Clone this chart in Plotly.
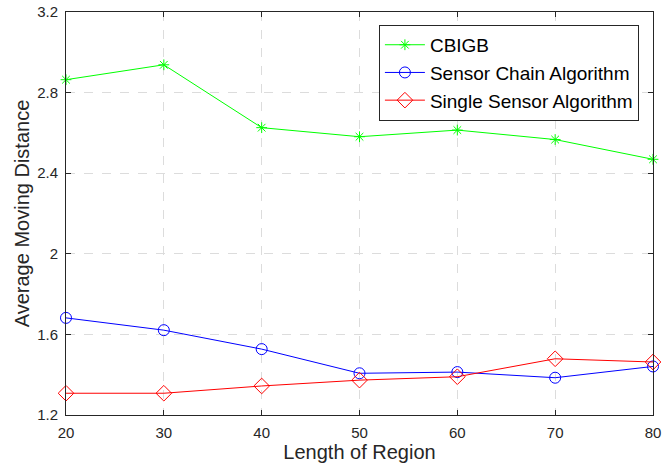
import plotly.graph_objects as go

x_vals = [20, 30, 40, 50, 60, 70, 80]
cbigb = [2.864, 2.938, 2.626, 2.581, 2.614, 2.567, 2.469]
sensor_chain = [1.682, 1.621, 1.527, 1.407, 1.413, 1.385, 1.441]
single_sensor = [1.308, 1.308, 1.344, 1.373, 1.390, 1.479, 1.463]
x_ticks = [20, 30, 40, 50, 60, 70, 80]
y_ticks = [1.2, 1.6, 2.0, 2.4, 2.8, 3.2]
y_tick_text = ["1.2", "1.6", "2", "2.4", "2.8", "3.2"]

FONT = "Liberation Sans, Arial, sans-serif"

fig = go.Figure()
fig.add_trace(go.Scatter(x=x_vals, y=cbigb, name="CBIGB", mode="lines+markers",
                         line=dict(color="#00ff00", width=1),
                         marker=dict(symbol="asterisk-open", size=9, color="#00ff00",
                                     line=dict(color="#00ff00", width=1)),
                         cliponaxis=False))
fig.add_trace(go.Scatter(x=x_vals, y=sensor_chain, name="Sensor Chain Algorithm", mode="lines+markers",
                         line=dict(color="#0000ff", width=1),
                         marker=dict(symbol="circle-open", size=11, color="#0000ff",
                                     line=dict(color="#0000ff", width=1)),
                         cliponaxis=False))
fig.add_trace(go.Scatter(x=x_vals, y=single_sensor, name="Single Sensor Algorithm", mode="lines+markers",
                         line=dict(color="#ff0000", width=1),
                         marker=dict(symbol="diamond-open", size=12, color="#ff0000",
                                     line=dict(color="#ff0000", width=1)),
                         cliponaxis=False))

axis_common = dict(showline=True, linecolor="#262626", linewidth=1, mirror="ticks",
                   ticks="inside", ticklen=5, tickcolor="#262626",
                   showgrid=True, gridcolor="#dcdcdc", griddash="dash", gridwidth=1,
                   zeroline=False, ticklabeloverflow="allow", automargin=False,
                   tickfont=dict(family=FONT, size=15, color="#262626"))

fig.update_xaxes(range=[20, 80], tickvals=x_ticks, ticklabelstandoff=4,
                 title=dict(text="Length of Region", font=dict(family=FONT, size=20, color="#262626"), standoff=4),
                 **axis_common)
fig.update_yaxes(range=[1.2, 3.2], tickvals=y_ticks, ticktext=y_tick_text, ticklabelstandoff=4,
                 title=dict(text="Average Moving Distance", font=dict(family=FONT, size=20, color="#262626"), standoff=2),
                 **axis_common)

fig.update_layout(width=662, height=468,
                  margin=dict(l=66, r=9, t=12, b=53),
                  plot_bgcolor="white", paper_bgcolor="white",
                  font=dict(family=FONT, color="#262626"),
                  legend=dict(x=0.976, y=0.968, xanchor="right", yanchor="top",
                              bgcolor="white", bordercolor="#262626", borderwidth=1,
                              font=dict(family=FONT, size=19, color="black"),
                              tracegroupgap=0, itemwidth=40))

fig.write_html("out.html", config={"displayModeBar": False},
               post_script="document.body.style.margin='0';")
